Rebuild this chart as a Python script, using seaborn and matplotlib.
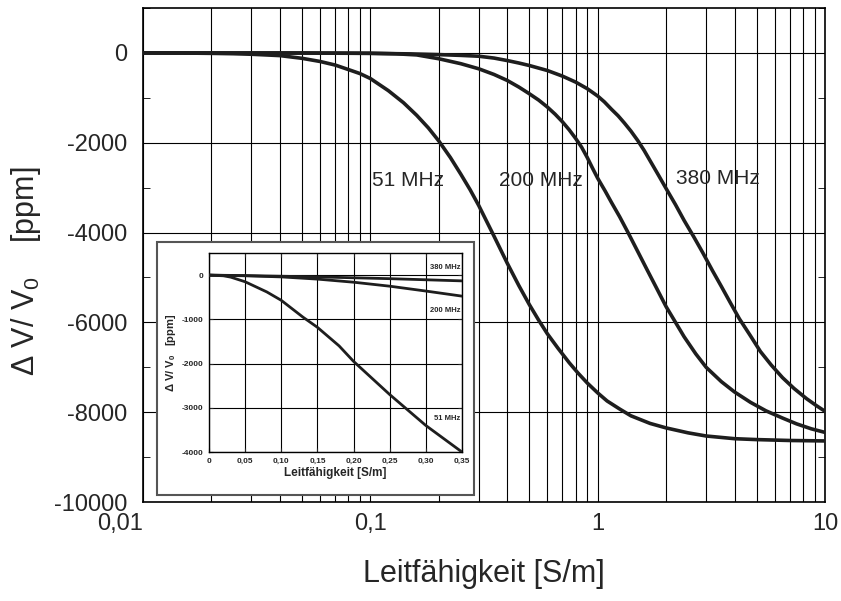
import numpy as np
import pandas as pd
import matplotlib
matplotlib.use("Agg")
import matplotlib.pyplot as plt
from matplotlib.patches import Rectangle
from matplotlib.ticker import LogLocator, FixedLocator, MultipleLocator, FixedFormatter
import seaborn as sns

# main chart: conductivity [S/m] vs dV/V0 [ppm]
cond_51 = [0.01, 0.015, 0.02, 0.025, 0.03, 0.04, 0.05, 0.06, 0.07, 0.08, 0.09, 0.1,
           0.12, 0.14, 0.16, 0.18, 0.2, 0.225, 0.25, 0.275, 0.3, 0.35, 0.4, 0.45, 0.5,
           0.55, 0.6, 0.67, 0.75, 0.82, 0.9, 1.0, 1.1, 1.25, 1.4, 1.7, 2.0, 2.5, 3.0,
           4.0, 5.0, 7.0, 10.0]
dv_51 = [0, -3, -10, -18, -30, -60, -120, -190, -270, -370, -460, -570,
         -840, -1110, -1390, -1670, -1960, -2330, -2700, -3050, -3400, -4080, -4680, -5180, -5600,
         -5950, -6250, -6580, -6900, -7130, -7350, -7570, -7750, -7930, -8080, -8250, -8350, -8460, -8530,
         -8590, -8610, -8630, -8640]

cond_200 = [0.01, 0.05, 0.1, 0.13, 0.16, 0.2, 0.25, 0.3, 0.35, 0.4, 0.45, 0.5, 0.55,
            0.6, 0.65, 0.7, 0.75, 0.8, 0.85, 0.9, 0.95, 1.0, 1.08, 1.15, 1.25, 1.36, 1.5,
            1.65, 1.8, 2.0, 2.2, 2.4, 2.7, 3.0, 3.5, 4.0, 4.7, 5.5, 6.5, 7.5, 8.7, 10.0]
dv_200 = [0, -2, -8, -20, -45, -130, -240, -354, -480, -613, -760, -908, -1050,
          -1203, -1365, -1535, -1715, -1904, -2100, -2330, -2570, -2790, -3080, -3330, -3650, -4000, -4420,
          -4830, -5200, -5650, -6000, -6320, -6700, -7000, -7320, -7550, -7780, -7970, -8130, -8260, -8370, -8450]

cond_380 = [0.01, 0.05, 0.1, 0.15, 0.2, 0.25, 0.3, 0.35, 0.4, 0.45, 0.5, 0.6, 0.7,
            0.8, 0.9, 1.0, 1.07, 1.15, 1.23, 1.31, 1.4, 1.5, 1.6, 1.7, 1.85, 2.0, 2.2,
            2.4, 2.65, 2.9, 3.2, 3.5, 3.85, 4.2, 4.7, 5.2, 5.8, 6.5, 7.3, 8.3, 9.2, 10.0]
dv_380 = [0, -3, -10, -22, -38, -55, -74, -115, -170, -225, -280, -391, -517,
          -650, -797, -960, -1090, -1255, -1400, -1560, -1740, -1950, -2170, -2400, -2720, -3020, -3380,
          -3730, -4100, -4450, -4850, -5200, -5580, -5920, -6300, -6650, -6950, -7230, -7470, -7700, -7860, -7980]

# inset: linear zoom 0 .. 0.35 S/m
ins_x = [0, 0.05, 0.1, 0.15, 0.2, 0.25, 0.3, 0.35]
ins_380 = [0, -10, -25, -40, -60, -80, -105, -130]
ins_200 = [0, -15, -40, -90, -160, -250, -360, -475]
ins_x51 = [0, 0.02, 0.03, 0.05, 0.08, 0.1, 0.13, 0.15, 0.18, 0.2, 0.25, 0.3, 0.35]
ins_51 = [0, -15, -45, -150, -380, -570, -950, -1180, -1600, -1950, -2700, -3400, -4000]

sns.set_style("ticks")
plt.rcParams["font.family"] = ["Liberation Sans", "DejaVu Sans"]
plt.rcParams["mathtext.default"] = "regular"
plt.rcParams["axes.unicode_minus"] = False

line_col = "#1e1e1e"

fig = plt.figure(figsize=(8.41, 6.01), dpi=100)
ax = fig.add_axes([0.170, 0.1647, 0.811, 0.822])

main_df = pd.concat([
    pd.DataFrame({"x": cond_51, "y": dv_51, "f": "51 MHz"}),
    pd.DataFrame({"x": cond_200, "y": dv_200, "f": "200 MHz"}),
    pd.DataFrame({"x": cond_380, "y": dv_380, "f": "380 MHz"}),
])
sns.lineplot(data=main_df, x="x", y="y", hue="f", palette=[line_col] * 3,
             linewidth=2.6, legend=False, ax=ax, zorder=3)

ax.set_xscale("log")
ax.set_xlim(0.01, 10)
ax.set_ylim(-10000, 1000)
ax.xaxis.set_major_locator(FixedLocator([0.01, 0.1, 1, 10]))
ax.xaxis.set_major_formatter(FixedFormatter(["0,01", "0,1", "1", "10"]))
ax.xaxis.set_minor_locator(LogLocator(base=10, subs=np.arange(2, 10)))
ax.yaxis.set_major_locator(FixedLocator([0, -2000, -4000, -6000, -8000, -10000]))
ax.yaxis.set_minor_locator(MultipleLocator(1000))
ax.grid(which="both", axis="x", color="black", linewidth=0.8)
ax.grid(which="major", axis="y", color="black", linewidth=0.8)
ax.tick_params(which="both", direction="in", top=True, right=True, color="black")
ax.tick_params(axis="x", which="major", labelsize=17, pad=8, length=0)
ax.tick_params(axis="y", which="major", labelsize=17, pad=11, length=0)
ax.tick_params(which="minor", length=5)
ax.tick_params(axis="x", which="minor", length=0)
for s in ax.spines.values():
    s.set_color("black")
    s.set_linewidth(1.2)
ax.get_xticklabels()[0].set_horizontalalignment("right")

ax.set_xlabel("Leitfähigkeit [S/m]", fontsize=22, labelpad=17)
ax.set_ylabel(r"Δ V/ $\mathregular{V_0}$    [ppm]", fontsize=22)
ax.yaxis.set_label_coords(-0.147, 0.468)

ax.text(0.102, -2840, "51 MHz", fontsize=15, va="center", ha="left", zorder=4)
ax.text(0.368, -2840, "200 MHz", fontsize=15, va="center", ha="left", zorder=4)
ax.text(2.21, -2800, "380 MHz", fontsize=15, va="center", ha="left", zorder=4)

# white box behind the inset
box = Rectangle((0.1867, 0.1764), 0.377, 0.421, transform=fig.transFigure,
                facecolor="white", edgecolor="#555555", linewidth=1.5, zorder=1)
fig.add_artist(box)

ins = fig.add_axes([0.2485, 0.2479, 0.3008, 0.3311])
ins.set_zorder(2)
ins_df = pd.concat([
    pd.DataFrame({"x": ins_x51, "y": ins_51, "f": "51 MHz"}),
    pd.DataFrame({"x": ins_x, "y": ins_200, "f": "200 MHz"}),
    pd.DataFrame({"x": ins_x, "y": ins_380, "f": "380 MHz"}),
])
sns.lineplot(data=ins_df, x="x", y="y", hue="f", palette=[line_col] * 3,
             linewidth=2.0, legend=False, ax=ins, zorder=3)
ins.set_xlim(0, 0.35)
ins.set_ylim(-4000, 500)
ins.xaxis.set_major_locator(FixedLocator(ins_x))
ins.xaxis.set_major_formatter(FixedFormatter(["0", "0,05", "0,10", "0,15", "0,20",
                                              "0,25", "0,30", "0,35"]))
ins.yaxis.set_major_locator(FixedLocator([0, -1000, -2000, -3000, -4000]))
ins.grid(True, color="black", linewidth=0.8)
ins.tick_params(direction="in", top=True, right=True, length=3, labelsize=6, pad=4)
for lab in ins.get_xticklabels() + ins.get_yticklabels():
    lab.set_fontweight("bold")
for s in ins.spines.values():
    s.set_color("black")
    s.set_linewidth(1.0)
ins.set_xlabel("Leitfähigkeit [S/m]", fontsize=8.5, fontweight="bold", labelpad=2)
ins.set_ylabel(r"Δ V/ $\mathregular{V_0}$   [ppm]", fontsize=8, fontweight="bold", labelpad=3)
ins.text(0.348, 165, "380 MHz", fontsize=5.5, fontweight="bold", ha="right", va="center")
ins.text(0.348, -790, "200 MHz", fontsize=5.5, fontweight="bold", ha="right", va="center")
ins.text(0.348, -3235, "51 MHz", fontsize=5.5, fontweight="bold", ha="right", va="center")

fig.savefig("out.png", dpi=100)
